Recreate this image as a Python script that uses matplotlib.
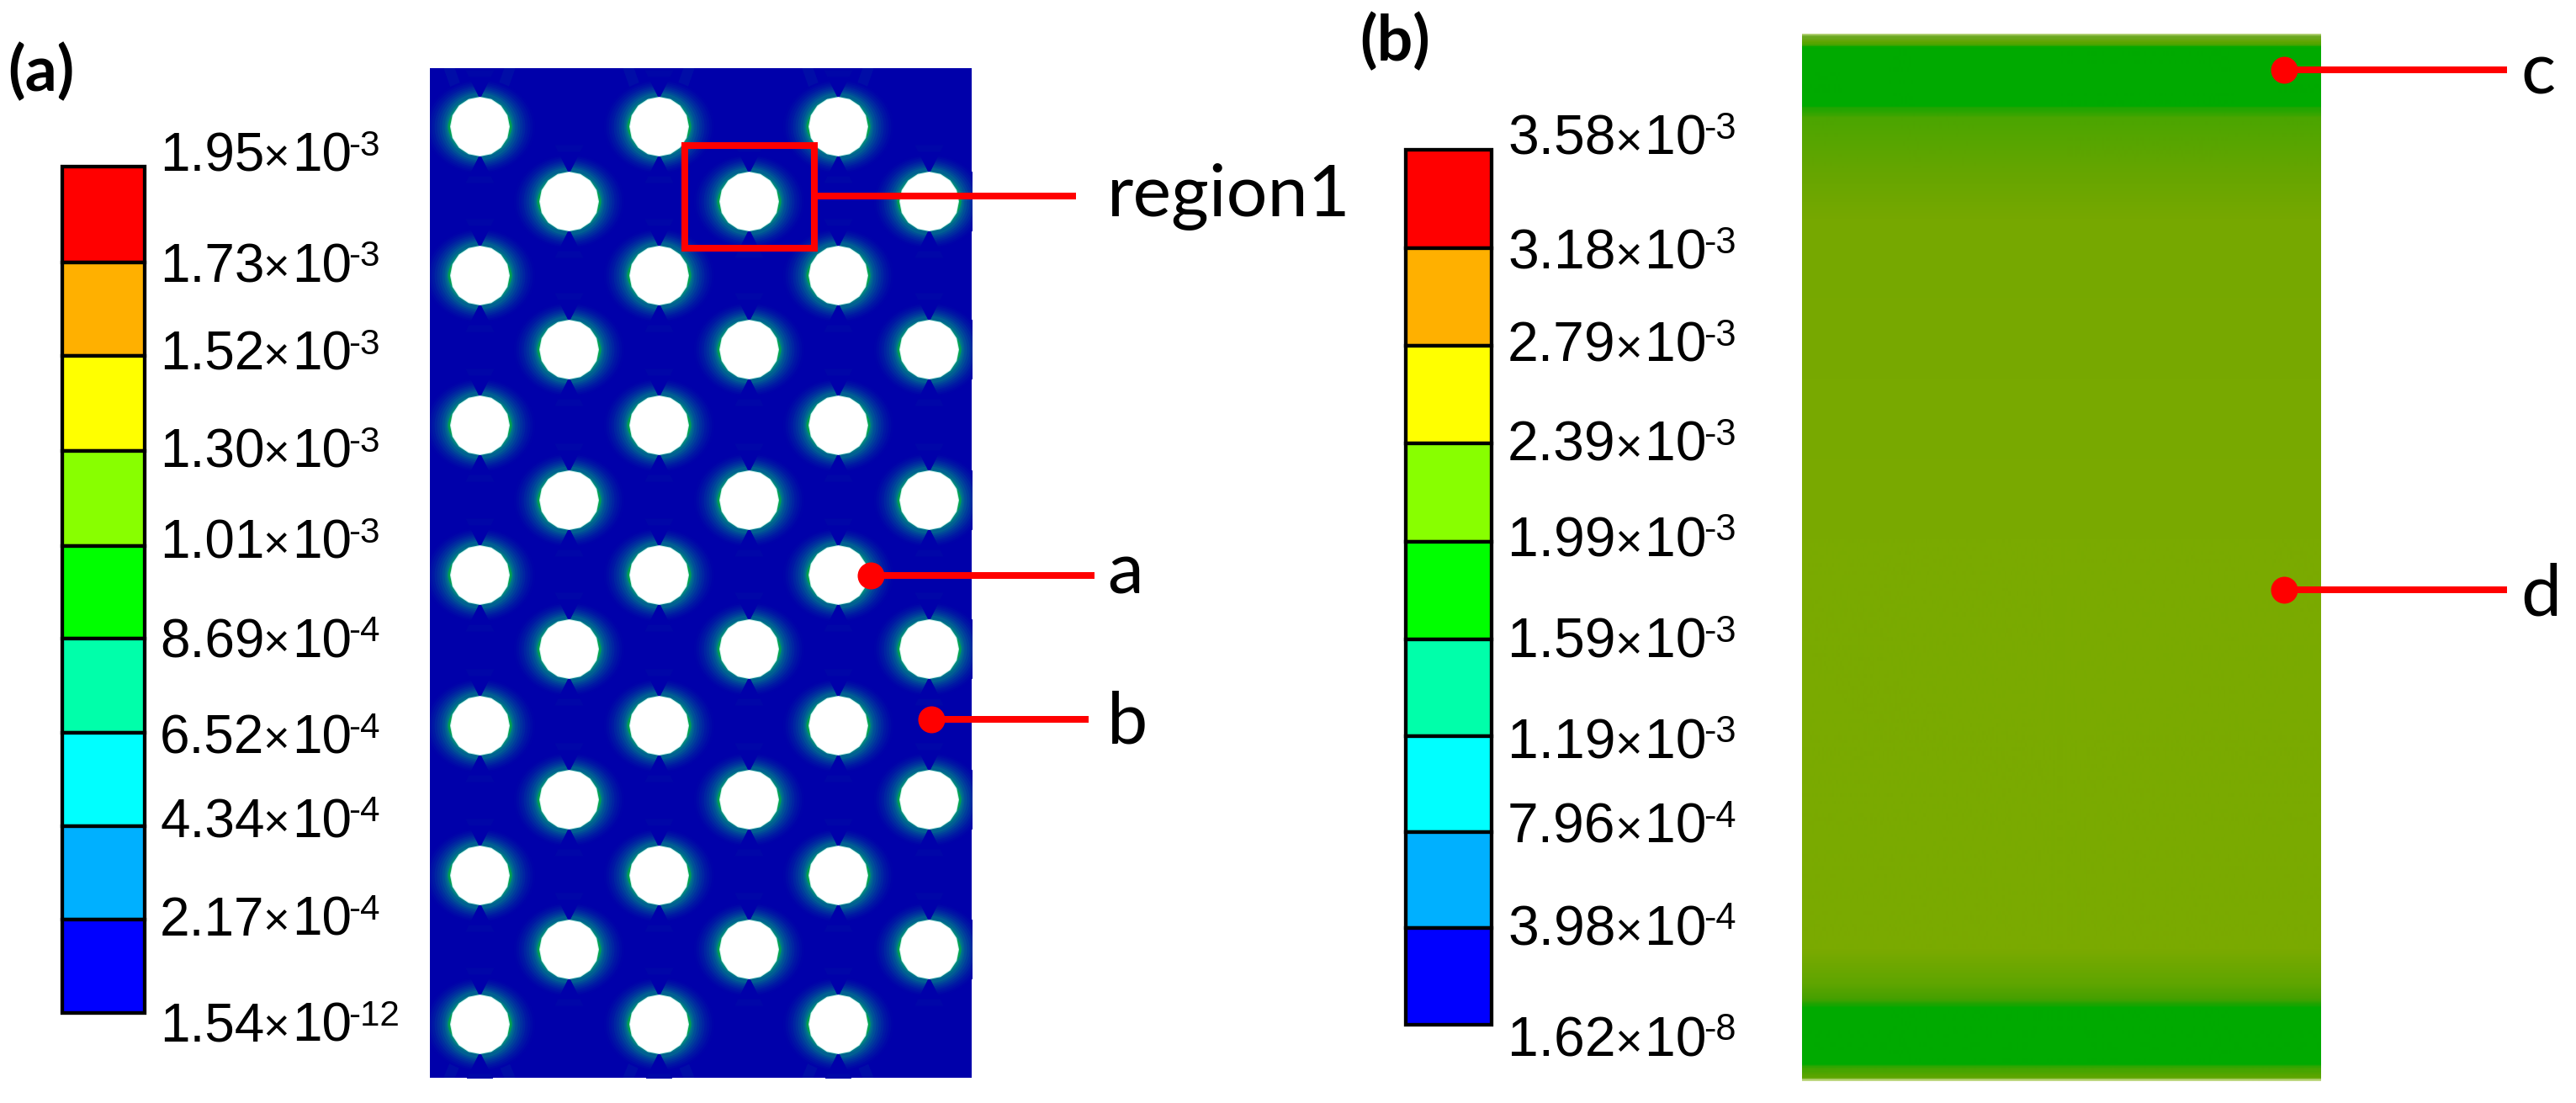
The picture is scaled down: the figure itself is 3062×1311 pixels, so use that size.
import numpy as np
import matplotlib
matplotlib.use("Agg")
import matplotlib.pyplot as plt
from matplotlib.colors import LinearSegmentedColormap
from matplotlib.path import Path
from matplotlib.transforms import Affine2D

W, H = 3062, 1311
DPI = 100

# colour scale values, top to bottom
levels_a = ["1.95", "1.73", "1.52", "1.30", "1.01", "8.69", "6.52", "4.34", "2.17", "1.54"]
powers_a = ["-3", "-3", "-3", "-3", "-3", "-4", "-4", "-4", "-4", "-12"]
levels_b = ["3.58", "3.18", "2.79", "2.39", "1.99", "1.59", "1.19", "7.96", "3.98", "1.62"]
powers_b = ["-3", "-3", "-3", "-3", "-3", "-3", "-3", "-4", "-4", "-8"]
scale_colors = ["#FF0000", "#FFB000", "#FFFF00", "#88FF00", "#00FF00",
                "#00FFAA", "#00FFFF", "#00B0FF", "#0000FF"]

# hole lattice of panel (a), picture pixels
hole_rows = [150, 239, 327, 415, 505, 594, 683, 771, 862, 950, 1040, 1128, 1217]
hole_cols_odd = [570, 783, 996]
hole_cols_even = [676, 890, 1104]

# glow round a hole: wider sideways than up and down
ring_rx = [66, 63, 60, 57, 54, 51, 48, 45, 42, 40, 38, 38]
ring_ry = [56, 54, 52, 50, 48, 46, 44, 42, 40, 36, 34, 26]
ring_color = ["#0002A9", "#0008A8", "#0010A6", "#0018A4", "#0024A2", "#00309F",
              "#003E9C", "#004E98", "#006092", "#00748A", "#008A7C", "#00A050"]

# dark notch above and below each hole
notch_size = [34, 26]
notch_color = ["#0006A8", "#0000AA"]

# vertical colour profile of panel (b)
profile_y = [40, 43, 50, 54, 56, 126, 128, 135, 140, 200, 260, 640, 1130, 1170, 1188,
             1196, 1199, 1266, 1270, 1282, 1285]
profile_rgb = [(190, 215, 130), (110, 170, 40), (95, 165, 0), (60, 165, 0), (0, 170, 0),
               (0, 170, 0), (30, 165, 0), (50, 165, 0), (75, 165, 0), (100, 165, 0),
               (118, 168, 0), (122, 170, 0), (122, 170, 0), (95, 165, 0), (70, 160, 0),
               (20, 165, 0), (0, 170, 0), (0, 170, 0), (60, 165, 0), (95, 165, 0),
               (190, 215, 130)]

# layout, picture pixels
edges_a = [198, 312, 423, 536, 649, 759, 871, 982, 1093, 1204]
base_a = [204, 335, 440, 556, 664, 781, 896, 995, 1112, 1238]
edges_b = [178, 295, 411, 527, 644, 760, 875, 989, 1103, 1218]
base_b = [184, 320, 430, 548, 661, 782, 901, 1002, 1123, 1255]

plt.rcParams["font.family"] = ["Liberation Sans", "DejaVu Sans"]


def px_axes(fig, x0, y0, x1, y1):
    ax = fig.add_axes([x0 / W, 1 - y1 / H, (x1 - x0) / W, (y1 - y0) / H])
    ax.set_xlim(x0, x1)
    ax.set_ylim(y1, y0)
    ax.axis("off")
    return ax


def size_of(diam):
    # scatter size from a diameter in px
    return (diam * 72.0 / DPI) ** 2


def scale_label(ax, x, y, mant, power, fs, offs):
    ax.text(x, y, mant, fontsize=fs, ha="left", va="baseline", color="#000000")
    ax.text(x + offs[0], y, "\u00d7", fontsize=fs * 0.85, ha="left", va="baseline", color="#000000")
    ax.text(x + offs[1], y, "10", fontsize=fs, ha="left", va="baseline", color="#000000")
    ax.text(x + offs[2], y - 19, power, fontsize=fs * 0.66, ha="left", va="baseline", color="#000000")


def colour_bar(ax, x0, x1, edges, colors):
    edges = np.array(edges)
    ax.barh((edges[:-1] + edges[1:]) / 2, x1 - x0, height=np.diff(edges), left=x0,
            color=colors, edgecolor="#000000", linewidth=3.1)


fig = plt.figure(figsize=(W / DPI, H / DPI), dpi=DPI)

# panel (a)
ax_a = px_axes(fig, 511, 81, 1155, 1281)
ax_a.axis("on")
ax_a.set_facecolor("#0000AA")
ax_a.set_xticks([])
ax_a.set_yticks([])
for sp in ax_a.spines.values():
    sp.set_visible(False)

hx, hy = [], []
for i, row in enumerate(hole_rows):
    for col in (hole_cols_odd if i % 2 == 0 else hole_cols_even):
        hx.append(col)
        hy.append(row)
hx = np.array(hx)
hy = np.array(hy)

# faint ears from the first and last row of holes to the panel edge
for col in hole_cols_odd:
    for row, end, sgn in ((hole_rows[0], 81, -1), (hole_rows[-1], 1281, 1)):
        for side in (-1, 1):
            ax_a.plot([col + side * 24, col + side * 36], [row + sgn * 35, end], color="#00609A",
                      lw=9, alpha=0.14, solid_capstyle="round", zorder=1)

for rx, ry, c in zip(ring_rx, ring_ry, ring_color):
    oval = Path.unit_circle().transformed(Affine2D().scale(1, ry / rx))
    ax_a.scatter(hx, hy, s=size_of(2 * rx), c=c, linewidths=0, marker=oval, zorder=2)
for d, c in zip(notch_size, notch_color):
    ax_a.scatter(hx, hy - 33 - d / 2, s=size_of(d), c=c, linewidths=0, marker="v", zorder=2.5)
    ax_a.scatter(hx, hy + 33 + d / 2, s=size_of(d), c=c, linewidths=0, marker="^", zorder=2.5)
ax_a.scatter(hx, hy, s=size_of(71), c="#C8F0EC", linewidths=0, marker=(16, 0, 0), zorder=3)
ax_a.scatter(hx, hy, s=size_of(69), c="#FFFFFF", linewidths=0, marker=(16, 0, 0), zorder=4)

# panel (b)
ax_b = px_axes(fig, 2142, 40, 2759, 1285)
pos = (np.array(profile_y) - profile_y[0]) / (profile_y[-1] - profile_y[0])
cols = [tuple(v / 255 for v in rgb) for rgb in profile_rgb]
band_cmap = LinearSegmentedColormap.from_list("bands", list(zip(pos, cols)), N=1024)
ax_b.imshow(np.linspace(0, 1, 1245)[:, None], cmap=band_cmap, aspect="auto",
            extent=[2142, 2759, 1285, 40], vmin=0, vmax=1)

# overlay for colour bars, labels and callouts
ov = px_axes(fig, 0, 0, W, H)
ov.patch.set_alpha(0)

colour_bar(ov, 74, 172, edges_a, scale_colors)
colour_bar(ov, 1671, 1773, edges_b, scale_colors)

for m, p, y in zip(levels_a, powers_a, base_a):
    scale_label(ov, 190, y, m, p, 46, (122, 157, 224))
for m, p, y in zip(levels_b, powers_b, base_b):
    scale_label(ov, 1792, y, m, p, 47.5, (127, 163, 233))

RED = "#FF0000"
LW = 8 * 72.0 / DPI
ov.plot([814, 968, 968, 814, 814], [173, 173, 295, 295, 173], color=RED, lw=LW,
        solid_joinstyle="miter", solid_capstyle="projecting")
ov.plot([972, 1279], [233, 233], color=RED, lw=LW, solid_capstyle="butt")

call_x = [1035, 1107, 2715, 2715]
call_y = [684, 855, 83, 701]
call_end = [1301, 1294, 2980, 2980]
call_names = ["a", "b", "c", "d"]
call_text_x = [1316, 1316, 2996, 2996]
call_base = [706, 883, 111, 732]

for x, y, e, n, tx, b in zip(call_x, call_y, call_end, call_names, call_text_x, call_base):
    ov.plot([x, e], [y, y], color=RED, lw=LW, solid_capstyle="butt")
    ov.scatter([x], [y], s=size_of(32), c=RED, linewidths=0, zorder=5)
    ov.text(tx, b, n, fontsize=62, family="Lato", color="#000000", ha="left", va="baseline")

ov.text(1316, 256, "region1", fontsize=62, family="Lato", color="#000000", ha="left", va="baseline")
ov.text(9, 108, "(a)", fontsize=54, family="Lato", weight="bold", color="#000000", ha="left", va="baseline")
ov.text(1616, 72, "(b)", fontsize=54, family="Lato", weight="bold", color="#000000", ha="left", va="baseline")

fig.savefig("out.png", dpi=DPI, facecolor="white")
